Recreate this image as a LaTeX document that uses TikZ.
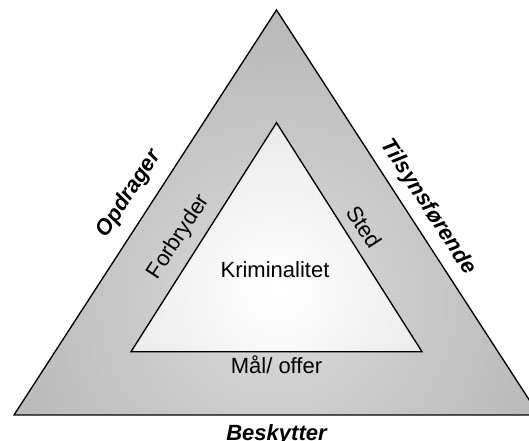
\documentclass[tikz,border=0pt]{standalone}
\usepackage{fontspec}
\setmainfont{Liberation Sans}

\tikzset{every picture/.style={line width=0.75pt}}
\tikzset{
  rolelabel/.style={font=\fontsize{16.5}{19}\selectfont\bfseries\itshape, inner sep=0.75pt},
  crimelabel/.style={font=\fontsize{16.5}{19}\selectfont, inner sep=0.75pt},
  triangleline/.style={draw=black, line width=1pt, line join=miter}
}

\begin{document}
\begin{tikzpicture}[x=0.75pt,y=0.75pt,yscale=-1,xscale=1]
\useasboundingbox (0,0) rectangle (529,441);

% corners of the two triangles
\coordinate (outerTop) at (276.5,10);
\coordinate (outerLeft) at (14,415);
\coordinate (outerRight) at (539,415);
\coordinate (innerTop) at (276.5,122.7);
\coordinate (innerLeft) at (131,351.7);
\coordinate (innerRight) at (422,351.7);

%Shape: outer triangle
\begin{scope}
\clip (outerTop) -- (outerRight) -- (outerLeft) -- cycle;
\shade[inner color={rgb,255:red,218;green,218;blue,218}, outer color={rgb,255:red,150;green,150;blue,150}] (276.5,300) circle (580);
\end{scope}
\draw [triangleline] (outerTop) -- (outerRight) -- (outerLeft) -- cycle;

%Shape: inner triangle
\begin{scope}
\clip (innerTop) -- (innerRight) -- (innerLeft) -- cycle;
\shade[inner color=white, outer color={rgb,255:red,212;green,212;blue,212}] (276.5,290) circle (340);
\end{scope}
\draw [triangleline] (innerTop) -- (innerRight) -- (innerLeft) -- cycle;

% Text Node
\node (opdrager) [rolelabel, rotate=57] at (129,194) {Opdrager};
% Text Node
\node (tilsyn) [rolelabel, rotate=-57] at (428,207) {Tilsynsførende};
% Text Node
\node (beskytter) [rolelabel, anchor=base] at (276.5,441) {Beskytter};
% Text Node
\node (forbryder) [crimelabel, rotate=57] at (179,237) {Forbryder};
% Text Node
\node (sted) [crimelabel, rotate=-57] at (364,227) {Sted};
% Text Node
\node (maal) [crimelabel] at (276.5,365) {Mål/ offer};
% Text Node
\node (kriminalitet) [crimelabel] at (275,270) {Kriminalitet};

\end{tikzpicture}
\end{document}
